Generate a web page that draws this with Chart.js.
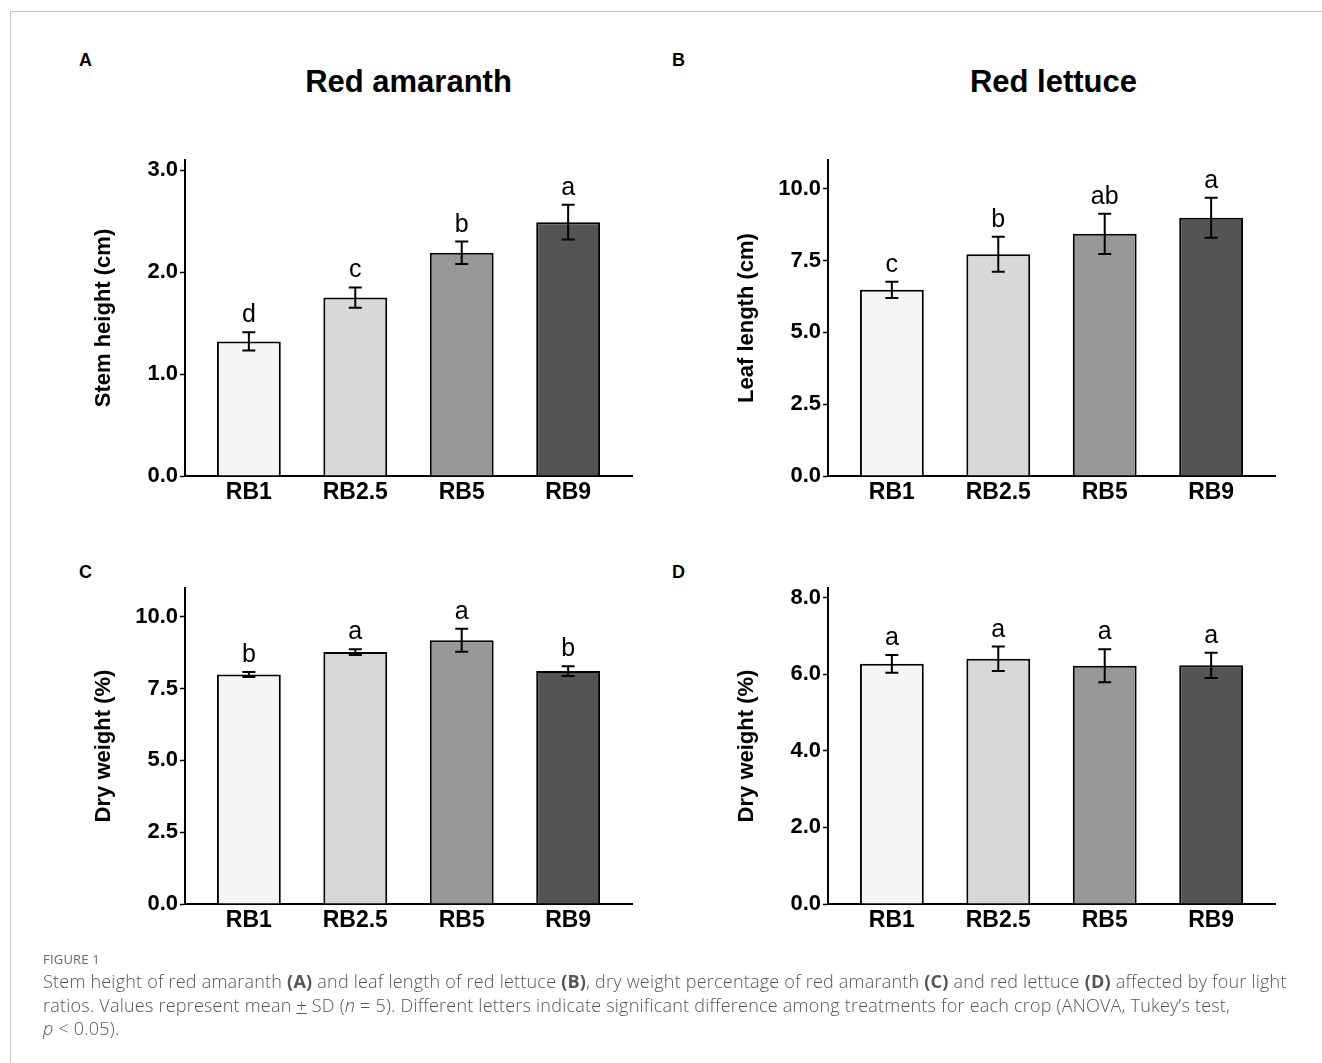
<!DOCTYPE html>
<html>
<head>
<meta charset="utf-8">
<script src="https://cdn.jsdelivr.net/npm/chart.js@4.4.1/dist/chart.umd.min.js"></script>
<style>
  html, body { margin:0; padding:0; background:#fff; width:1322px; height:1063px; overflow:hidden; }
  .frame { position:absolute; left:10px; top:11px; width:1340px; height:1100px; border:1px solid #c6c6c6; box-sizing:border-box; }
  canvas { position:absolute; }
  .plabel { position:absolute; font:bold 18px "Liberation Sans", Arial, sans-serif; color:#000; }
  .head { position:absolute; font:bold 31px "Liberation Sans", Arial, sans-serif; color:#000; text-align:center; width:447px; }
  .figlab { position:absolute; left:43px; top:950px; font:13px "Open Sans", "Noto Sans", sans-serif; color:#6a6a6a; letter-spacing:0.2px; }
  .cap { position:absolute; left:43px; top:970px; font:18px/23.5px "Open Sans", "Noto Sans", sans-serif; letter-spacing:0.22px; color:#555; white-space:nowrap; font-weight:300; }
  .cap b { font-weight:700; color:#555; }
</style>
</head>
<body>
<div class="frame"></div>
<div class="plabel" style="left:79px;top:50px;">A</div>
<div class="plabel" style="left:672px;top:50px;">B</div>
<div class="plabel" style="left:79px;top:562px;">C</div>
<div class="plabel" style="left:672px;top:562px;">D</div>
<div class="head" style="left:185px;top:64px;">Red amaranth</div>
<div class="head" style="left:830px;top:64px;">Red lettuce</div>
<canvas id="cA" width="600" height="420" style="left:60px;top:130px;"></canvas>
<canvas id="cB" width="600" height="420" style="left:703px;top:130px;"></canvas>
<canvas id="cC" width="600" height="420" style="left:60px;top:558px;"></canvas>
<canvas id="cD" width="600" height="420" style="left:703px;top:558px;"></canvas>
<div class="figlab">FIGURE 1</div>
<div class="cap">Stem height of red amaranth <b>(A)</b> and leaf length of red lettuce <b>(B)</b>, dry weight percentage of red amaranth <b>(C)</b> and red lettuce <b>(D)</b> affected by four light<br>ratios. Values represent mean <u>+</u> SD (<i>n</i> = 5). Different letters indicate significant difference among treatments for each crop (ANOVA, Tukey’s test,<br><i>p</i> &lt; 0.05).</div>
<script>
const categories = ['RB1', 'RB2.5', 'RB5', 'RB9'];
const barColors = ['#f5f5f5', '#d8d8d8', '#989898', '#545454'];

const stemHeight = [1.32, 1.75, 2.19, 2.49];
const stemHeightSD = [0.09, 0.10, 0.11, 0.17];
const stemHeightLetters = ['d', 'c', 'b', 'a'];
const stemHeightTicks = [0, 1, 2, 3];

const leafLength = [6.48, 7.72, 8.43, 8.99];
const leafLengthSD = [0.28, 0.61, 0.70, 0.70];
const leafLengthLetters = ['c', 'b', 'ab', 'a'];
const leafLengthTicks = [0, 2.5, 5, 7.5, 10];

const dryAmaranth = [7.99, 8.77, 9.18, 8.11];
const dryAmaranthSD = [0.09, 0.10, 0.40, 0.17];
const dryAmaranthLetters = ['b', 'a', 'a', 'b'];
const dryAmaranthTicks = [0, 2.5, 5, 7.5, 10];

const dryLettuce = [6.27, 6.40, 6.22, 6.23];
const dryLettuceSD = [0.23, 0.32, 0.43, 0.33];
const dryLettuceLetters = ['a', 'a', 'a', 'a'];
const dryLettuceTicks = [0, 2, 4, 6, 8];

const FAM = '"Liberation Sans", Arial, sans-serif';

function makeAnnot(means, sds, letters, yTitle) {
  return {
    id: 'annot',
    afterDatasetsDraw(chart) {
      const ctx = chart.ctx;
      const xs = chart.scales.x, ys = chart.scales.y;
      ctx.save();
      ctx.strokeStyle = '#000';
      ctx.lineWidth = 2;
      ctx.fillStyle = '#000';
      ctx.font = '25px ' + FAM;
      ctx.textAlign = 'center';
      ctx.textBaseline = 'alphabetic';
      means.forEach((m, i) => {
        const px = xs.getPixelForValue(i);
        const t = ys.getPixelForValue(m + sds[i]);
        const b = ys.getPixelForValue(m - sds[i]);
        ctx.beginPath();
        ctx.moveTo(px, t); ctx.lineTo(px, b);
        ctx.moveTo(px - 6.5, t); ctx.lineTo(px + 6.5, t);
        ctx.moveTo(px - 6.5, b); ctx.lineTo(px + 6.5, b);
        ctx.stroke();
        ctx.fillText(letters[i], px, t - 10);
      });
      const ca = chart.chartArea;
      ctx.translate(ca.left - 81, (ca.top + ca.bottom) / 2);
      ctx.rotate(-Math.PI / 2);
      ctx.font = 'bold 22px ' + FAM;
      ctx.textBaseline = 'middle';
      ctx.fillText(yTitle, 0, 0);
      ctx.restore();
    }
  };
}

function makePanel(id, means, sds, letters, yTitle, yMax, yTicks) {
  new Chart(document.getElementById(id), {
    type: 'bar',
    data: {
      datasets: [{
        data: categories.map((c, i) => ({ x: i, y: means[i] })),
        backgroundColor: barColors,
        borderColor: '#000',
        borderWidth: 2,
        barPercentage: 0.6,
        categoryPercentage: 1
      }]
    },
    options: {
      responsive: false,
      animation: false,
      events: [],
      layout: { padding: { top: 30, right: 28, left: 0, bottom: 0 } },
      plugins: { legend: { display: false }, tooltip: { enabled: false } },
      scales: {
        x: {
          type: 'linear',
          offset: false,
          min: -0.6, max: 3.6,
          afterBuildTicks: s => { s.ticks = categories.map((c, i) => ({ value: i })); },
          afterFit: s => { s.height = 74; },
          ticks: {
            callback: v => categories[v],
            font: { family: FAM, size: 23, weight: 'bold' },
            color: '#000', padding: 3, maxRotation: 0, autoSkip: false
          },
          grid: { display: true, offset: false, drawOnChartArea: false, drawTicks: false },
          border: { display: true, color: '#000', width: 2 }
        },
        y: {
          min: 0, max: yMax,
          afterBuildTicks: s => { s.ticks = yTicks.map(v => ({ value: v })); },
          afterFit: s => { s.width = 125; },
          ticks: {
            callback: v => Number(v).toFixed(1),
            font: { family: FAM, size: 22, weight: 'bold' },
            color: '#000', padding: 2
          },
          grid: { display: true, drawOnChartArea: false, drawTicks: true, tickLength: 5, tickWidth: 1.5, tickColor: '#000' },
          border: { display: true, color: '#000', width: 2 }
        }
      }
    },
    plugins: [makeAnnot(means, sds, letters, yTitle)]
  });
}

makePanel('cA', stemHeight, stemHeightSD, stemHeightLetters, 'Stem height (cm)', 3.1, stemHeightTicks);
makePanel('cB', leafLength, leafLengthSD, leafLengthLetters, 'Leaf length (cm)', 11, leafLengthTicks);
makePanel('cC', dryAmaranth, dryAmaranthSD, dryAmaranthLetters, 'Dry weight (%)', 11, dryAmaranthTicks);
makePanel('cD', dryLettuce, dryLettuceSD, dryLettuceLetters, 'Dry weight (%)', 8.25, dryLettuceTicks);
</script>
</body>
</html>
